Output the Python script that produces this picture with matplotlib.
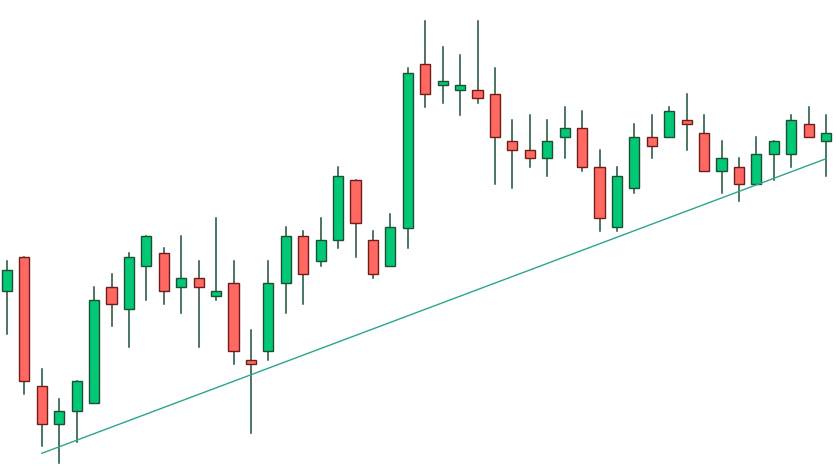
import matplotlib
matplotlib.use("Agg")
import matplotlib.pyplot as plt
from matplotlib.patches import Rectangle

# OHLC per bar
opens = [118.17, 121.57, 108.67, 104.87, 106.17, 106.97, 118.57, 116.37, 120.67, 121.97,
         118.57, 119.47, 117.67, 118.97, 111.27, 112.17, 118.97, 123.67, 121.17, 123.27,
         129.27, 123.27, 120.67, 124.53, 140.87, 138.77, 138.27, 138.27, 137.87, 133.17,
         132.27, 131.47, 133.57, 134.47, 130.57, 124.57, 128.47, 133.57, 133.57, 135.27,
         133.97, 130.17, 130.57, 128.87, 131.87, 131.87, 134.87, 133.17]
highs = [121.2, 121.57, 110.4, 107.4, 109.17, 118.6, 119.9, 122.0, 123.67, 122.5,
         123.7, 121.2, 125.5, 121.2, 114.3, 121.2, 124.6, 124.2, 125.5, 130.6,
         129.27, 124.2, 125.9, 140.47, 145.2, 142.6, 141.8, 145.2, 140.5, 135.3,
         135.8, 135.3, 136.6, 136.2, 132.3, 130.6, 134.9, 135.8, 136.6, 137.9,
         135.8, 133.2, 131.5, 133.6, 133.17, 135.8, 136.6, 135.8]
lows = [113.93, 107.93, 102.73, 101.03, 103.13, 106.97, 114.73, 112.63, 117.33, 116.93,
        116.03, 112.63, 117.33, 110.93, 104.03, 111.33, 116.03, 116.93, 120.73, 122.53,
        121.63, 119.53, 120.67, 122.53, 136.63, 137.03, 135.83, 137.03, 128.93, 128.53,
        130.63, 129.73, 131.53, 130.23, 124.23, 124.23, 128.03, 131.53, 133.57, 132.33,
        130.17, 128.03, 127.23, 128.87, 129.33, 130.63, 133.57, 129.73]
closes = [120.27, 109.17, 104.87, 106.17, 109.17, 117.3, 116.87, 121.57, 123.67, 118.17,
          119.47, 118.57, 118.17, 112.17, 110.87, 118.97, 123.67, 119.87, 123.27, 129.67,
          124.97, 119.87, 124.57, 139.97, 137.87, 139.17, 138.77, 137.47, 133.57, 132.27,
          131.47, 133.17, 134.47, 130.57, 125.47, 129.67, 133.57, 132.67, 136.17, 134.87,
          130.17, 131.47, 128.87, 131.87, 133.17, 135.27, 133.57, 133.97]

# trendline anchors (bar index, price)
trend_x = [2, 47]
trend_y = [101.97, 131.43]

UP = '#00c875'
DOWN = '#ff6961'
UP_EDGE = '#1d4f35'
DOWN_EDGE = '#6e1d1a'
WICK = '#1d4f35'

fig = plt.figure(figsize=(8.36, 4.73), dpi=100)
ax = fig.add_axes([0, 0, 1, 1])

w = 0.58
for i in range(len(opens)):
    o, h, l, c = opens[i], highs[i], lows[i], closes[i]
    up = c >= o
    ax.plot([i, i], [l, h], color=WICK, linewidth=1.1, zorder=1)
    ax.add_patch(Rectangle((i - w / 2, min(o, c)), w, abs(c - o),
                           facecolor=UP if up else DOWN,
                           edgecolor=UP_EDGE if up else DOWN_EDGE,
                           linewidth=1.0, zorder=2))

ax.plot(trend_x, trend_y, color='#2ba58f', linewidth=1.0, zorder=3)

ax.set_xlim(-0.40, 47.57)
ax.set_ylim(100, 147.3)
ax.axis('off')

fig.savefig('out.png', dpi=100)
